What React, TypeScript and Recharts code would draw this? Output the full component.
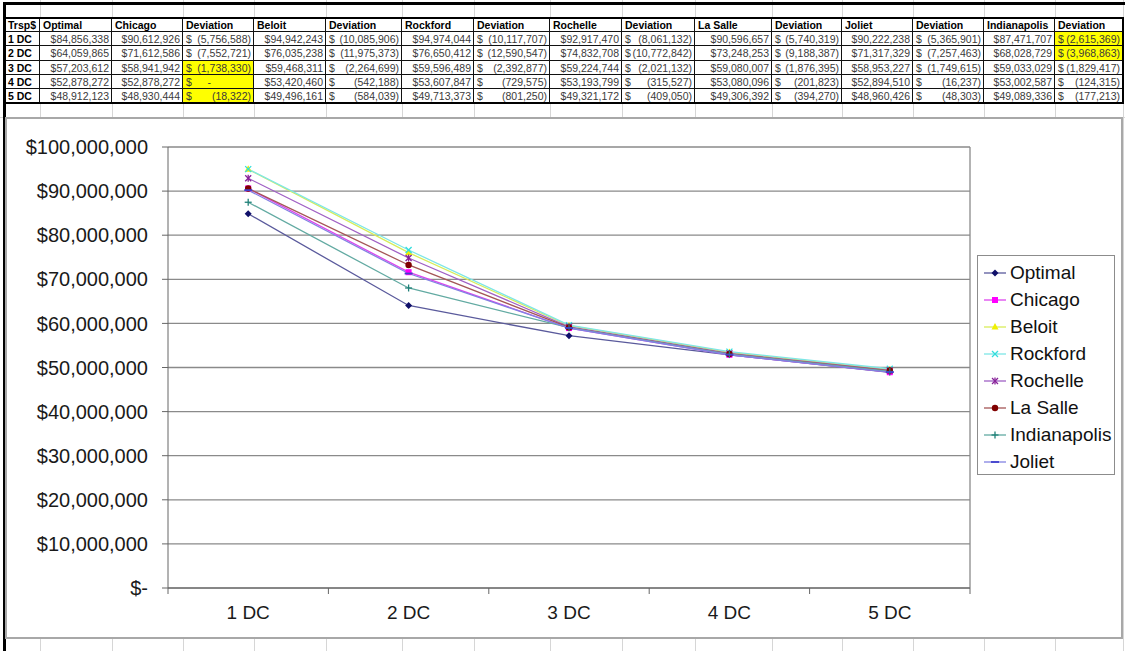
import React from 'react';
import { LineChart, Line, XAxis, YAxis, CartesianGrid, Legend, ReferenceLine } from 'recharts';

const categories = ['1 DC', '2 DC', '3 DC', '4 DC', '5 DC'];
const optimal = [84856338, 64059865, 57203612, 52878272, 48912123];
const chicago = [90612926, 71612586, 58941942, 52878272, 48930444];
const beloit = [94942243, 76035238, 59468311, 53420460, 49496161];
const rockford = [94974044, 76650412, 59596489, 53607847, 49713373];
const rochelle = [92917470, 74832708, 59224744, 53193799, 49321172];
const laSalle = [90596657, 73248253, 59080007, 53080096, 49306392];
const joliet = [90222238, 71317329, 58953227, 52894510, 48960426];
const indianapolis = [87471707, 68028729, 59033029, 53002587, 49089336];

const chicagoDev = [-5756588, -7552721, -1738330, 0, -18322];
const beloitDev = [-10085906, -11975373, -2264699, -542188, -584039];
const rockfordDev = [-10117707, -12590547, -2392877, -729575, -801250];
const rochelleDev = [-8061132, -10772842, -2021132, -315527, -409050];
const laSalleDev = [-5740319, -9188387, -1876395, -201823, -394270];
const jolietDev = [-5365901, -7257463, -1749615, -16237, -48303];
const indianapolisDev = [-2615369, -3968863, -1829417, -124315, -177213];

const tableHeaders = ['Trsp$', 'Optimal', 'Chicago', 'Deviation', 'Beloit', 'Deviation', 'Rockford', 'Deviation', 'Rochelle', 'Deviation', 'La Salle', 'Deviation', 'Joliet', 'Deviation', 'Indianapolis', 'Deviation'];
const yTicks = [0, 10000000, 20000000, 30000000, 40000000, 50000000, 60000000, 70000000, 80000000, 90000000, 100000000];

const seriesNames = ['Optimal', 'Chicago', 'Beloit', 'Rockford', 'Rochelle', 'La Salle', 'Indianapolis', 'Joliet'];
const seriesValues = [optimal, chicago, beloit, rockford, rochelle, laSalle, indianapolis, joliet];

type Style = { line: string; marker: string; shape: string };
const seriesStyles: Style[] = [
  { line: '#5a5a9c', marker: '#10106a', shape: 'diamond' },
  { line: '#dd44ee', marker: '#ff00ff', shape: 'square' },
  { line: '#d8ec5a', marker: '#f0f000', shape: 'triangle' },
  { line: '#7ee6e6', marker: '#33dddd', shape: 'x' },
  { line: '#a060c4', marker: '#882299', shape: 'star' },
  { line: '#a45656', marker: '#800000', shape: 'circle' },
  { line: '#62aaa2', marker: '#208078', shape: 'plus' },
  { line: '#8282e2', marker: '#4040cc', shape: 'dash' },
];

const chartData = categories.map((c, i) => {
  const row: Record<string, number | string> = { x: i + 1, label: c };
  seriesNames.forEach((n, k) => { row[n] = seriesValues[k][i]; });
  return row;
});

const tableColumns: { kind: 'label' | 'value' | 'dev'; data: number[] }[] = [
  { kind: 'label', data: [] },
  { kind: 'value', data: optimal },
  { kind: 'value', data: chicago },
  { kind: 'dev', data: chicagoDev },
  { kind: 'value', data: beloit },
  { kind: 'dev', data: beloitDev },
  { kind: 'value', data: rockford },
  { kind: 'dev', data: rockfordDev },
  { kind: 'value', data: rochelle },
  { kind: 'dev', data: rochelleDev },
  { kind: 'value', data: laSalle },
  { kind: 'dev', data: laSalleDev },
  { kind: 'value', data: joliet },
  { kind: 'dev', data: jolietDev },
  { kind: 'value', data: indianapolis },
  { kind: 'dev', data: indianapolisDev },
];
const highlighted = new Set(['3-2', '3-3', '3-4', '15-0', '15-1']);

const colX = [5, 40, 112, 183, 254, 326, 402, 474, 550, 622, 695, 772, 842, 913, 984, 1055, 1123];
const rowY = [18, 32, 46, 61, 75, 89, 103];

const FONT = '"Liberation Sans", Arial, sans-serif';

const fmtMoney = (v: number) => '$' + v.toLocaleString('en-US');
const fmtY = (v: number) => (v === 0 ? '$-' : '$' + v.toLocaleString('en-US'));

function Marker({ shape, cx, cy, color }: { shape: string; cx: number; cy: number; color: string }) {
  switch (shape) {
    case 'diamond':
      return <polygon points={`${cx},${cy - 3.5} ${cx + 3.5},${cy} ${cx},${cy + 3.5} ${cx - 3.5},${cy}`} fill={color} />;
    case 'square':
      return <rect x={cx - 3} y={cy - 3} width={6} height={6} fill={color} />;
    case 'triangle':
      return <polygon points={`${cx},${cy - 4} ${cx + 3.5},${cy + 2.5} ${cx - 3.5},${cy + 2.5}`} fill={color} />;
    case 'x':
      return (
        <g stroke={color} strokeWidth={1.3}>
          <line x1={cx - 3} y1={cy - 3} x2={cx + 3} y2={cy + 3} />
          <line x1={cx - 3} y1={cy + 3} x2={cx + 3} y2={cy - 3} />
        </g>
      );
    case 'star':
      return (
        <g stroke={color} strokeWidth={1.3}>
          <line x1={cx - 3} y1={cy - 3} x2={cx + 3} y2={cy + 3} />
          <line x1={cx - 3} y1={cy + 3} x2={cx + 3} y2={cy - 3} />
          <line x1={cx} y1={cy - 3.5} x2={cx} y2={cy + 3.5} />
        </g>
      );
    case 'circle':
      return <circle cx={cx} cy={cy} r={3.2} fill={color} />;
    case 'plus':
      return (
        <g stroke={color} strokeWidth={1.3}>
          <line x1={cx - 3.5} y1={cy} x2={cx + 3.5} y2={cy} />
          <line x1={cx} y1={cy - 3.5} x2={cx} y2={cy + 3.5} />
        </g>
      );
    default:
      return <line x1={cx - 4} y1={cy} x2={cx + 4} y2={cy} stroke={color} strokeWidth={1.8} />;
  }
}

const makeDot = (s: Style) => (p: any) => {
  if (p.cx == null || p.cy == null) return <g key={p.index} />;
  return (
    <g key={p.index}>
      <Marker shape={s.shape} cx={p.cx} cy={p.cy} color={s.marker} />
    </g>
  );
};

const XTick = (props: any) => {
  const { x, y, payload } = props;
  const v = payload.value as number;
  if (Number.isInteger(v)) {
    return (
      <text x={x} y={y} dy={31} textAnchor="middle" fontSize={19} fill="#1a1a1a" fontFamily={FONT}>
        {categories[v - 1]}
      </text>
    );
  }
  return <line x1={x} x2={x} y1={y} y2={y + 6} stroke="#666" strokeWidth={1} />;
};

const LegendBox = () => (
  <div
    style={{
      width: 138,
      height: 220,
      boxSizing: 'border-box',
      border: '1.5px solid #8c8c8c',
      background: '#fff',
      position: 'relative',
      fontFamily: FONT,
    }}
  >
    {seriesNames.map((n, i) => {
      const s = seriesStyles[i];
      return (
        <div key={n} style={{ position: 'absolute', left: 0, top: 5 + i * 27, height: 24, width: 136 }}>
          <svg width={30} height={24} style={{ position: 'absolute', left: 4, top: 0 }}>
            <line x1={2} x2={24} y1={12} y2={12} stroke={s.line} strokeWidth={1.3} />
            <Marker shape={s.shape} cx={13} cy={12} color={s.marker} />
          </svg>
          <span
            style={{
              position: 'absolute',
              left: 32,
              top: 0,
              lineHeight: '24px',
              fontSize: 19,
              color: '#111',
              whiteSpace: 'nowrap',
            }}
          >
            {n}
          </span>
        </div>
      );
    })}
  </div>
);

function SheetTable() {
  const cells: React.ReactNode[] = [];
  for (let c = 0; c < tableHeaders.length; c++) {
    const left = colX[c];
    const width = colX[c + 1] - colX[c];
    for (let r = 0; r < rowY.length - 1; r++) {
      const top = rowY[r];
      const height = rowY[r + 1] - rowY[r];
      const col = tableColumns[c];
      const isHeader = r === 0;
      const dataIdx = r - 1;
      const hl = !isHeader && highlighted.has(`${c}-${dataIdx}`);
      let content: React.ReactNode = null;
      const bold = isHeader || col.kind === 'label';
      if (isHeader) content = <span>{tableHeaders[c]}</span>;
      else if (col.kind === 'label') content = <span>{categories[dataIdx]}</span>;
      else if (col.kind === 'value')
        content = <span style={{ marginLeft: 'auto' }}>{fmtMoney(col.data[dataIdx])}</span>;
      else {
        const v = col.data[dataIdx];
        content = (
          <>
            <span>$</span>
            {v === 0 ? (
              <span style={{ marginRight: 40 }}>-</span>
            ) : (
              <span>({Math.abs(v).toLocaleString('en-US')})</span>
            )}
          </>
        );
      }
      cells.push(
        <div
          key={`${c}-${r}`}
          style={{
            position: 'absolute',
            left,
            top,
            width,
            height,
            boxSizing: 'border-box',
            borderRight: '1px solid #111',
            borderBottom: '1px solid #111',
            background: hl ? '#ffff00' : '#fff',
            display: 'flex',
            alignItems: 'center',
            justifyContent: col.kind === 'dev' && !isHeader ? 'space-between' : 'flex-start',
            padding: '0 2px 0 3px',
            fontSize: bold ? 10.5 : 10.5,
            fontWeight: bold ? 700 : 400,
            color: bold ? '#000' : '#3a3a3a',
            whiteSpace: 'nowrap',
            overflow: 'hidden',
            fontFamily: FONT,
          }}
        >
          {content}
        </div>
      );
    }
  }
  return (
    <>
      {cells}
      <div
        style={{
          position: 'absolute',
          left: colX[0] - 1,
          top: rowY[0] - 1,
          width: colX[colX.length - 1] - colX[0] + 2,
          height: rowY[rowY.length - 1] - rowY[0] + 2,
          boxSizing: 'border-box',
          border: '2px solid #000',
          pointerEvents: 'none',
        }}
      />
    </>
  );
}

export default function App() {
  return (
    <div
      style={{
        position: 'absolute',
        left: 0,
        top: 0,
        width: 1125,
        height: 651,
        background: '#fff',
        overflow: 'hidden',
        fontFamily: FONT,
      }}
    >
      {/* spreadsheet gridlines */}
      {colX.slice(1).map((x) => (
        <div key={x} style={{ position: 'absolute', left: x, top: 0, width: 1, height: 651, background: '#d6d6d6' }} />
      ))}
      <div style={{ position: 'absolute', left: 0, top: 117, width: 1125, height: 1, background: '#d6d6d6' }} />
      {/* window borders */}
      <div style={{ position: 'absolute', left: 3, top: 2, width: 1122, height: 3, background: '#000' }} />
      <div style={{ position: 'absolute', left: 3, top: 2, width: 3, height: 649, background: '#000' }} />

      <SheetTable />

      {/* chart object */}
      <div style={{ position: 'absolute', left: 6, top: 118, width: 1116, height: 520, background: '#fff' }}>
        <LineChart width={1116} height={520} data={chartData} margin={{ top: 29, right: 152, bottom: 0, left: 0 }}>
          <CartesianGrid vertical={false} stroke="#8a8a8a" strokeWidth={1.3} />
          <XAxis
            dataKey="x"
            type="number"
            domain={[0.5, 5.5]}
            ticks={[0.5, 1, 1.5, 2, 2.5, 3, 3.5, 4, 4.5, 5, 5.5]}
            interval={0}
            tick={<XTick />}
            tickLine={false}
            tickSize={0}
            tickMargin={0}
            axisLine={{ stroke: '#666', strokeWidth: 1 }}
            height={50}
            allowDataOverflow
          />
          <YAxis
            type="number"
            domain={[0, 100000000]}
            ticks={yTicks}
            interval={0}
            tickFormatter={fmtY}
            width={162}
            tickSize={6}
            tickMargin={14}
            tickLine={{ stroke: '#666' }}
            axisLine={{ stroke: '#666', strokeWidth: 1 }}
            tick={{ fontSize: 20, fill: '#1a1a1a', fontFamily: FONT }}
            allowDataOverflow
          />
          <ReferenceLine x={5.5} stroke="#8a8a8a" strokeWidth={1.3} ifOverflow="extendDomain" />
          <Legend
            layout="vertical"
            align="center"
            verticalAlign="middle"
            content={() => <LegendBox />}
            wrapperStyle={{ position: 'absolute', left: 971, top: 137, width: 138, height: 220 }}
          />
          {seriesNames.map((n, i) => (
            <Line
              key={n}
              type="linear"
              dataKey={n}
              name={n}
              stroke={seriesStyles[i].line}
              strokeWidth={1.3}
              dot={makeDot(seriesStyles[i])}
              activeDot={false}
              isAnimationActive={false}
            />
          ))}
        </LineChart>
      </div>
      <div
        style={{
          position: 'absolute',
          left: 5,
          top: 117,
          width: 1118,
          height: 522,
          boxSizing: 'border-box',
          border: '2px solid #a8a8a8',
          pointerEvents: 'none',
        }}
      />
    </div>
  );
}
